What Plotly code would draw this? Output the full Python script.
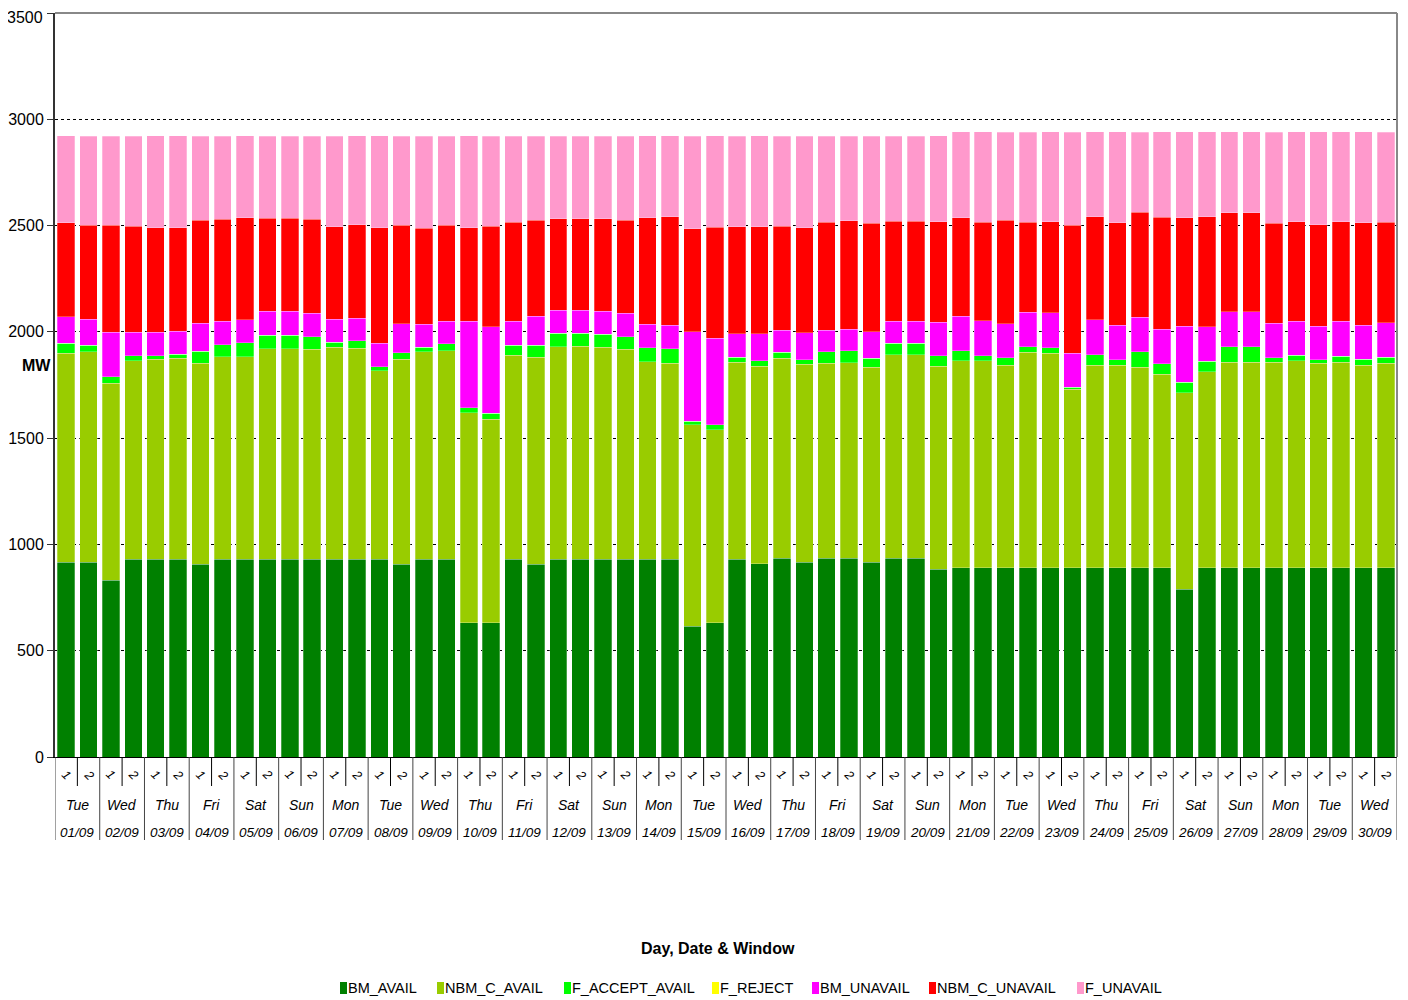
import plotly.graph_objects as go

days = ["Tue", "Wed", "Thu", "Fri", "Sat", "Sun", "Mon", "Tue", "Wed", "Thu",
        "Fri", "Sat", "Sun", "Mon", "Tue", "Wed", "Thu", "Fri", "Sat", "Sun",
        "Mon", "Tue", "Wed", "Thu", "Fri", "Sat", "Sun", "Mon", "Tue", "Wed"]
dates = ["01/09", "02/09", "03/09", "04/09", "05/09", "06/09", "07/09", "08/09", "09/09", "10/09",
         "11/09", "12/09", "13/09", "14/09", "15/09", "16/09", "17/09", "18/09", "19/09", "20/09",
         "21/09", "22/09", "23/09", "24/09", "25/09", "26/09", "27/09", "28/09", "29/09", "30/09"]
windows = ["1", "2"]
y_ticks = [0, 500, 1000, 1500, 2000, 2500, 3000, 3500]

BM_AVAIL = [916, 916, 831, 930, 930, 930, 906, 930, 930, 930,
            930, 930, 930, 930, 930, 906, 930, 930, 632, 632,
            930, 906, 930, 930, 930, 930, 930, 930, 616, 632,
            930, 909, 936, 916, 936, 936, 916, 936, 936, 884,
            890, 890, 890, 890, 890, 890, 890, 890, 890, 890,
            790, 890, 890, 890, 890, 890, 890, 890, 890, 890]
NBM_C_AVAIL = [983, 991, 927, 933, 942, 945, 946, 952, 952, 991,
               991, 989, 998, 992, 887, 965, 977, 980, 988, 956,
               959, 974, 1000, 1002, 997, 989, 930, 922, 946, 908,
               926, 929, 939, 931, 917, 919, 917, 957, 957, 954,
               973, 973, 952, 1013, 1009, 841, 954, 954, 944, 910,
               924, 923, 968, 968, 968, 973, 962, 968, 954, 963]
F_ACCEPT_AVAIL = [47, 31, 30, 25, 16, 19, 56, 58, 66, 64,
                  64, 58, 24, 36, 19, 31, 20, 33, 22, 28,
                  49, 58, 63, 61, 61, 57, 66, 69, 17, 22,
                  25, 25, 28, 22, 53, 55, 44, 53, 53, 50,
                  47, 24, 36, 27, 27, 9, 49, 25, 72, 50,
                  49, 49, 71, 71, 20, 28, 16, 28, 27, 28]
F_REJECT = [0] * 60
BM_UNAVAIL = [124, 121, 210, 110, 110, 110, 133, 111, 108, 113,
              113, 111, 108, 107, 110, 135, 108, 108, 409, 409,
              111, 135, 108, 108, 110, 111, 110, 110, 422, 409,
              110, 129, 104, 126, 102, 102, 124, 105, 105, 157,
              163, 165, 161, 163, 163, 160, 163, 162, 163, 162,
              263, 162, 165, 165, 163, 160, 158, 165, 160, 163]
NBM_C_UNAVAIL = [444, 442, 503, 500, 491, 485, 485, 478, 480, 437,
                 437, 441, 434, 438, 543, 464, 453, 450, 438, 472,
                 467, 453, 431, 431, 434, 439, 500, 510, 483, 521,
                 503, 503, 491, 495, 508, 511, 511, 470, 470, 472,
                 463, 463, 486, 423, 428, 602, 485, 483, 494, 527,
                 510, 517, 467, 467, 469, 466, 477, 466, 483, 472]
F_UNAVAIL = [408, 420, 420, 423, 433, 433, 395, 392, 386, 386,
             386, 392, 427, 419, 433, 420, 433, 420, 433, 423,
             405, 395, 389, 389, 389, 395, 386, 381, 437, 430,
             427, 427, 423, 431, 405, 398, 409, 400, 400, 405,
             405, 427, 414, 424, 424, 438, 400, 427, 376, 402,
             405, 400, 380, 380, 430, 424, 438, 424, 427, 424]

series_names = ["BM_AVAIL", "NBM_C_AVAIL", "F_ACCEPT_AVAIL", "F_REJECT",
                "BM_UNAVAIL", "NBM_C_UNAVAIL", "F_UNAVAIL"]
series_values = [BM_AVAIL, NBM_C_AVAIL, F_ACCEPT_AVAIL, F_REJECT,
                 BM_UNAVAIL, NBM_C_UNAVAIL, F_UNAVAIL]
series_colors = ["#008000", "#99CC00", "#00FF00", "#FFFF00", "#FF00FF", "#FF0000", "#FF99CC"]

FONT = "Liberation Sans, Arial, sans-serif"

# page body has an 8px default margin: the figure is sized to fill the rest of the window
OFF = 8
W, H = 1408 - OFF, 1000 - OFF
ML, MR, MT, MB = 55 - OFF, 11, 13 - OFF, 243
PW, PH = W - ML - MR, H - MT - MB


def px_x(p):
    return (p - OFF - ML) / PW


def px_y(p):
    return (H + OFF - MB - p) / PH


n = len(days) * len(windows)
xs = list(range(n))

fig = go.Figure()
for name, vals, color in zip(series_names, series_values, series_colors):
    fig.add_trace(go.Bar(
        x=xs, y=vals, name=name, showlegend=False,
        marker=dict(color=color, line=dict(color="rgba(255,255,255,0.45)", width=0.6)),
    ))

annotations = []
shapes = []
for d in range(len(days)):
    for wi, w in enumerate(windows):
        annotations.append(dict(x=d * 2 + wi, y=px_y(775), xref="x", yref="paper", text="<i>%s</i>" % w,
                                showarrow=False, textangle=45, font=dict(size=12.5, color="#000"),
                                yanchor="middle", xanchor="center"))
    annotations.append(dict(x=d * 2 + 0.5, y=px_y(805), xref="x", yref="paper", text="<i>%s</i>" % days[d],
                            showarrow=False, font=dict(size=14, color="#000"), yanchor="middle"))
    annotations.append(dict(x=d * 2 + 0.5, y=px_y(832), xref="x", yref="paper", text="<i>%s</i>" % dates[d],
                            showarrow=False, font=dict(size=13.5, color="#000"), yanchor="middle"))
    shapes.append(dict(type="line", xref="x", yref="paper", x0=d * 2 + 0.5, x1=d * 2 + 0.5,
                       y0=0, y1=px_y(786), line=dict(color="#000", width=1)))
for d in range(len(days) + 1):
    xb = d * 2 - 0.5
    shapes.append(dict(type="line", xref="x", yref="paper", x0=xb, x1=xb,
                       y0=0, y1=px_y(840), line=dict(color="#444", width=1)))

# plot border (top & right)
shapes.append(dict(type="line", xref="paper", yref="paper", x0=0, x1=1, y0=1, y1=1,
                   line=dict(color="#888", width=2)))
shapes.append(dict(type="line", xref="paper", yref="paper", x0=1, x1=1, y0=0, y1=1,
                   line=dict(color="#888", width=2)))

# top tick label drawn as an annotation so it stays inside the page
annotations.append(dict(x=px_x(45), y=y_ticks[-1], xref="paper", yref="y", text=str(y_ticks[-1]),
                        showarrow=False, font=dict(size=16, color="#000"), xanchor="right",
                        yanchor="top", yshift=6))
annotations.append(dict(x=px_x(36), y=px_y(365), xref="paper", yref="paper", text="<b>MW</b>",
                        showarrow=False, font=dict(size=16, color="#000"), xanchor="center",
                        yanchor="middle"))
annotations.append(dict(x=px_x(718), y=px_y(948), xref="paper", yref="paper",
                        text="<b>Day, Date & Window</b>",
                        showarrow=False, font=dict(size=16, color="#000"), xanchor="center",
                        yanchor="middle"))

# legend (square swatch + label)
legend_left = [340, 437, 564, 712, 812, 929, 1077]
for name, color, lx in zip(series_names, series_colors, legend_left):
    shapes.append(dict(type="rect", xref="paper", yref="paper",
                       x0=px_x(lx), x1=px_x(lx + 7), y0=px_y(994), y1=px_y(982),
                       fillcolor=color, line=dict(width=0)))
    annotations.append(dict(x=px_x(lx + 8), y=px_y(988), xref="paper", yref="paper", text=name,
                            showarrow=False, font=dict(size=14.5, color="#000"),
                            xanchor="left", yanchor="middle", xshift=-2))

fig.update_layout(
    width=W, height=H,
    margin=dict(l=ML, r=MR, t=MT, b=MB),
    paper_bgcolor="white", plot_bgcolor="white",
    barmode="stack", bargap=0.22,
    showlegend=False,
    font=dict(family=FONT, size=15, color="#000"),
    xaxis=dict(range=[-0.5, n - 0.5], showticklabels=False, showgrid=False, zeroline=False,
               showline=True, linecolor="#000", linewidth=1, ticks="", automargin=False),
    yaxis=dict(range=[0, 3500], tickmode="array", tickvals=y_ticks,
               ticktext=[str(v) for v in y_ticks[:-1]] + [""],
               showgrid=True, gridcolor="#000",
               griddash="dot", gridwidth=1, zeroline=False, showline=True, linecolor="#333",
               linewidth=2, ticks="outside", ticklen=6, tickcolor="#333", automargin=False,
               tickfont=dict(family=FONT, size=16, color="#000")),
    annotations=annotations, shapes=shapes,
)

fig.write_html("out.html")
